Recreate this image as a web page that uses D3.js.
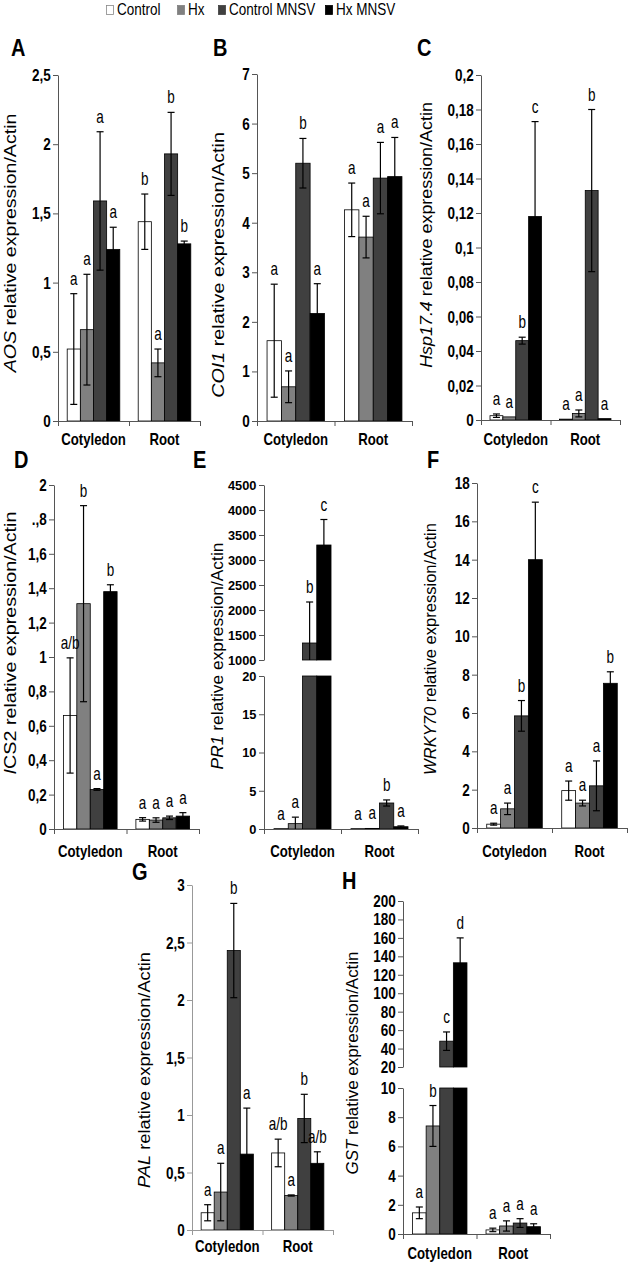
<!DOCTYPE html>
<html>
<head>
<meta charset="utf-8">
<script src="https://cdn.jsdelivr.net/npm/d3@7"></script>
<style>
  body { margin: 0; background: #fff; }
  svg text { font-family: "Liberation Sans", Arial, sans-serif; fill: #000; }
</style>
</head>
<body>
<script>
const width = 635, height = 1268;

const categories = ["Cotyledon", "Root"];
const series = ["Control", "Hx", "Control MNSV", "Hx MNSV"];

// values per category: [Control, Hx, Control MNSV, Hx MNSV]
const aosValues = [[0.52, 0.66, 1.59, 1.24], [1.44, 0.42, 1.93, 1.28]];
const aosErrors = [[0.40, 0.40, 0.50, 0.16], [0.20, 0.10, 0.30, 0.02]];
const aosLetters = [["a", "a", "a", "a"], ["b", "a", "b", "b"]];
const aosTicks = [0, 0.5, 1, 1.5, 2, 2.5];

const coi1Values = [[1.62, 0.69, 5.2, 2.17], [4.26, 3.71, 4.9, 4.93]];
const coi1Errors = [[1.14, 0.32, 0.5, 0.6], [0.54, 0.42, 0.72, 0.79]];
const coi1Letters = [["a", "a", "b", "a"], ["a", "a", "a", "a"]];
const coi1Ticks = [0, 1, 2, 3, 4, 5, 6, 7];

const hspValues = [[0.0025, 0.0018, 0.046, 0.118], [0.0005, 0.0038, 0.133, 0.0008]];
const hspErrors = [[0.001, 0, 0.002, 0.055], [0, 0.002, 0.047, 0]];
const hspLetters = [["a", "a", "b", "c"], ["a", "a", "b", "a"]];
const hspTicks = [0, 0.02, 0.04, 0.06, 0.08, 0.1, 0.12, 0.14, 0.16, 0.18, 0.2];

const ics2Values = [[0.66, 1.31, 0.23, 1.38], [0.056, 0.052, 0.065, 0.075]];
const ics2Errors = [[0.335, 0.57, 0.005, 0.04], [0.01, 0.013, 0.01, 0.02]];
const ics2Letters = [["a/b", "b", "a", "b"], ["a", "a", "a", "a"]];
const ics2Ticks = [0, 0.2, 0.4, 0.6, 0.8, 1, 1.2, 1.4, 1.6, 1.8, 2];
const ics2TickLabels = ["0", "0,2", "0,4", "0,6", "0,8", "1", "1,2", "1,4", "1,6", ".,8", "2"];

const pr1Values = [[0.05, 0.7, 1340, 3300], [0.05, 0.08, 3.4, 0.3]];
const pr1Errors = [[0, 0.85, 820, 510], [0, 0, 0.4, 0.1]];
const pr1Letters = [["a", "a", "b", "c"], ["a", "a", "b", "a"]];
const pr1TicksLow = [0, 5, 10, 15, 20];
const pr1TicksHigh = [1000, 1500, 2000, 2500, 3000, 3500, 4000, 4500];

const wrkyValues = [[0.2, 1.0, 5.85, 14.0], [1.95, 1.3, 2.2, 7.55]];
const wrkyErrors = [[0.05, 0.3, 0.8, 3.0], [0.5, 0.15, 1.3, 0.6]];
const wrkyLetters = [["a", "a", "b", "c"], ["a", "a", "a", "b"]];
const wrkyTicks = [0, 2, 4, 6, 8, 10, 12, 14, 16, 18];

const palValues = [[0.15, 0.33, 2.43, 0.66], [0.67, 0.3, 0.97, 0.58]];
const palErrors = [[0.07, 0.25, 0.41, 0.4], [0.12, 0.005, 0.21, 0.1]];
const palLetters = [["a", "a", "b", "a"], ["a/b", "a", "b", "a/b"]];
const palTicks = [0, 0.5, 1, 1.5, 2, 2.5, 3];

const gstValues = [[1.45, 7.4, 48, 133], [0.28, 0.55, 0.75, 0.5]];
const gstErrors = [[0.4, 1.4, 10, 27], [0.12, 0.35, 0.3, 0.2]];
const gstLetters = [["a", "b", "c", "d"], ["a", "a", "a", "a"]];
const gstTicksLow = [0, 2, 4, 6, 8, 10];
const gstTicksHigh = [20, 40, 60, 80, 100, 120, 140, 160, 180, 200];

const fills = ["#ffffff", "#808080", "#404040", "#000000"];
const legendX = [106, 177, 218, 325];
const fmt = d => String(d).replace(".", ",");

const panels = [
  {letter: "A", at: [11, 56], gene: [["AOS", true]], ylab: [16, 243, 259], x: [58, 200], catY: 445,
   seg: [{d: [0, 2.5], r: [421, 75], t: aosTicks}], values: aosValues, errors: aosErrors, letters: aosLetters},
  {letter: "B", at: [213, 56], gene: [["COI1", true]], ylab: [224, 265, 266], x: [257, 412], catY: 445,
   seg: [{d: [0, 7], r: [421, 74], t: coi1Ticks}], values: coi1Values, errors: coi1Errors, letters: coi1Letters},
  {letter: "C", at: [417, 56], gene: [["Hsp17.4", true]], ylab: [432, 235, 266], x: [481, 620], catY: 445,
   seg: [{d: [0, 0.2], r: [420, 75], t: hspTicks}], values: hspValues, errors: hspErrors, letters: hspLetters},
  {letter: "D", at: [14, 468], gene: [["I", true], ["CS2", false]], ylab: [16, 643, 263], x: [54, 199], catY: 857,
   seg: [{d: [0, 2], r: [829, 485], t: ics2Ticks, labels: ics2TickLabels}], values: ics2Values, errors: ics2Errors, letters: ics2Letters},
  {letter: "E", at: [193, 468], gene: [["PR1", true]], ylab: [223, 656, 227], x: [264, 418], catY: 857, tickFont: [13.5, 0.95, 1],
   seg: [{d: [0, 20], r: [829, 676], t: pr1TicksLow}, {d: [1000, 4500], r: [660, 485], t: pr1TicksHigh}],
   values: pr1Values, errors: pr1Errors, letters: pr1Letters},
  {letter: "F", at: [427, 468], gene: [["WRKY70", true]], ylab: [436, 649, 252], x: [477, 627], catY: 857,
   seg: [{d: [0, 18], r: [828, 483], t: wrkyTicks}], values: wrkyValues, errors: wrkyErrors, letters: wrkyLetters},
  {letter: "G", at: [132, 880], gene: [["PAL", true]], ylab: [150, 1070, 236], x: [192, 333], catY: 1252, axis: "#999",
   seg: [{d: [0, 3], r: [1230, 885], t: palTicks}], values: palValues, errors: palErrors, letters: palLetters},
  {letter: "H", at: [342, 889], gene: [["GST", true]], ylab: [358, 1063, 223], x: [403, 550], catY: 1259,
   seg: [{d: [0, 10], r: [1234, 1088], t: gstTicksLow}, {d: [20, 200], r: [1067, 901], t: gstTicksHigh}],
   values: gstValues, errors: gstErrors, letters: gstLetters}
];

const svg = d3.select("body").append("svg")
    .attr("width", width)
    .attr("height", height)
    .attr("viewBox", [0, 0, width, height]);

// legend
const legend = svg.append("g");
series.forEach((s, i) => {
  const g = legend.append("g").attr("transform", `translate(${legendX[i]},0)`);
  g.append("rect")
      .attr("x", 0.5).attr("y", 5.5).attr("width", 7).attr("height", 9)
      .attr("fill", fills[i])
      .attr("stroke", i === 0 ? "#888" : fills[i])
      .attr("stroke-width", 0.8);
  g.append("text")
      .attr("transform", "translate(11,15) scale(1,1.25)")
      .attr("font-size", 13.5)
      .text(s);
});

panels.forEach(p => {
  const g = svg.append("g");
  const [x0, x1] = p.x;
  const axisColor = p.axis || "#555";
  const [tfs, tsx, tsy] = p.tickFont || [15, 0.9, 1.15];
  const xc = d3.scaleBand().domain(categories).range([x0, x1]);
  const xs = d3.scaleBand().domain(series).range([0, xc.bandwidth()]).paddingOuter(0.7);
  const cx = d => xc(d.c) + xs(d.s) + xs.bandwidth() / 2;
  const segs = p.seg.map(s => ({...s, y: d3.scaleLinear().domain(s.d).range(s.r)}));
  const base = segs[0].y(0);

  const rows = categories.flatMap((c, ci) => series.map((s, si) => ({
    c, s, si, v: p.values[ci][si], e: p.errors[ci][si], l: p.letters[ci][si]
  })));

  // y axes (one per segment for broken axes)
  segs.forEach(s => {
    const ax = g.append("g")
        .attr("transform", `translate(${x0},0)`)
        .call(d3.axisLeft(s.y)
          .tickValues(s.t)
          .tickFormat(s.labels ? (d, i) => s.labels[i] : fmt)
          .tickSize(5).tickSizeOuter(0).tickPadding(3))
        .attr("font-size", tfs)
        .attr("font-weight", "bold");
    ax.select(".domain").attr("stroke", axisColor);
    ax.selectAll(".tick line").attr("stroke", axisColor);
    ax.selectAll(".tick text").attr("transform", `scale(${tsx},${tsy})`);
  });

  // bars
  segs.forEach(s => {
    const [dmin, dmax] = s.d;
    g.append("g")
      .selectAll("rect")
      .data(rows.filter(d => d.v > dmin))
      .join("rect")
        .attr("x", d => xc(d.c) + xs(d.s))
        .attr("width", xs.bandwidth())
        .attr("y", d => s.y(Math.min(d.v, dmax)))
        .attr("height", d => s.y(dmin) - s.y(Math.min(d.v, dmax)))
        .attr("fill", d => fills[d.si])
        .attr("stroke", "#000")
        .attr("stroke-width", 0.8);
  });

  // error bars
  segs.forEach(s => {
    const [dmin, dmax] = s.d;
    const eb = rows.filter(d => d.e > 0 && d.v + d.e > dmin && d.v - d.e < dmax);
    const gg = g.append("g").attr("stroke", "#000").attr("stroke-width", 1.2);
    gg.selectAll("line.stem").data(eb).join("line")
        .attr("class", "stem")
        .attr("x1", cx).attr("x2", cx)
        .attr("y1", d => s.y(Math.max(d.v - d.e, dmin)))
        .attr("y2", d => s.y(Math.min(d.v + d.e, dmax)));
    gg.selectAll("line.hi").data(eb.filter(d => d.v + d.e <= dmax)).join("line")
        .attr("class", "hi")
        .attr("x1", d => cx(d) - 3.5).attr("x2", d => cx(d) + 3.5)
        .attr("y1", d => s.y(d.v + d.e)).attr("y2", d => s.y(d.v + d.e));
    gg.selectAll("line.lo").data(eb.filter(d => d.v - d.e >= dmin)).join("line")
        .attr("class", "lo")
        .attr("x1", d => cx(d) - 3.5).attr("x2", d => cx(d) + 3.5)
        .attr("y1", d => s.y(d.v - d.e)).attr("y2", d => s.y(d.v - d.e));
  });

  // x axis with category separators
  const xl = d3.scaleLinear().domain([0, 2]).range([x0, x1]);
  const xa = g.append("g")
      .attr("transform", `translate(0,${base})`)
      .call(d3.axisBottom(xl).tickValues([0, 1, 2]).tickFormat("").tickSize(5).tickSizeOuter(0));
  xa.select(".domain").attr("stroke", axisColor);
  xa.selectAll(".tick line").attr("stroke", axisColor);

  // significance letters
  g.append("g")
    .selectAll("text")
    .data(rows)
    .join("text")
      .attr("text-anchor", "middle")
      .attr("font-size", 15)
      .attr("transform", d => {
        const top = d.v + d.e;
        const s = segs.find(s => top >= s.d[0] && top <= s.d[1]) || segs[0];
        return `translate(${cx(d)},${s.y(top) - 9}) scale(0.9,1.2)`;
      })
      .text(d => d.l);

  // category labels
  g.append("g")
    .selectAll("text")
    .data(categories)
    .join("text")
      .attr("text-anchor", "middle")
      .attr("font-size", 15)
      .attr("font-weight", "bold")
      .attr("transform", c => `translate(${xc(c) + xc.bandwidth() / 2},${p.catY}) scale(0.88,1.15)`)
      .text(c => c);

  // y label
  const yl = g.append("text")
      .attr("font-size", 16)
      .attr("text-anchor", "middle");
  p.gene.forEach(([t, it]) => yl.append("tspan").attr("font-style", it ? "italic" : null).text(t));
  yl.append("tspan").text(" relative expression/Actin");
  const w = yl.node().getComputedTextLength();
  yl.attr("transform", `translate(${p.ylab[0]},${p.ylab[1]}) rotate(-90) scale(${p.ylab[2] / w},1)`);

  // panel letter
  g.append("text")
      .attr("font-size", 20)
      .attr("font-weight", "bold")
      .attr("transform", `translate(${p.at[0]},${p.at[1]}) scale(1,1.15)`)
      .text(p.letter);
});
</script>
</body>
</html>
